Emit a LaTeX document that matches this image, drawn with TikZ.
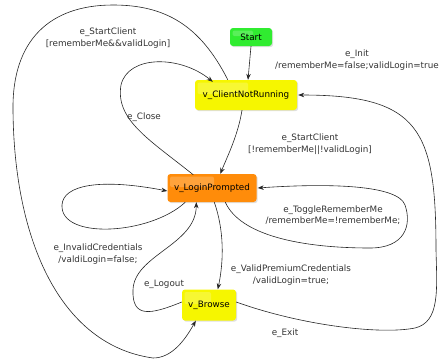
\documentclass[tikz,border=0pt]{standalone}
\usepackage{fontspec}
\setmainfont{DejaVu Sans}
\usetikzlibrary{arrows.meta,shadows,calc}
\definecolor{stgreen}{HTML}{30EC30}
\definecolor{styellow}{HTML}{F6F600}
\definecolor{storange}{HTML}{FF8C0A}
\definecolor{lbl}{HTML}{333333}
\tikzset{
  state/.style={rounded corners=3pt, inner sep=0pt, font=\fontsize{8.8}{10.5}\selectfont,
    drop shadow={opacity=0.25, shadow xshift=1.2pt, shadow yshift=-1.2pt},
    path picture={\fill[white,opacity=0.2,rounded corners=2pt]
      ($(path picture bounding box.north west)+(2.5pt,-2.5pt)$) rectangle
      ($(path picture bounding box.center)+(2pt,1pt)$);}},
  edge/.style={draw=black!85, line width=0.6pt, -{Stealth[length=6pt,width=4.5pt]}},
  lab/.style={font=\fontsize{8.8}{11.5}\selectfont, text=lbl, align=center, inner sep=0pt},
}
\begin{document}
\begin{tikzpicture}[x=1pt,y=-1pt]
\useasboundingbox (0,0) rectangle (440,362);
% states
\node[state, fill=stgreen, minimum width=42pt, minimum height=18pt] (start) at (251,37) {Start};
\node[state, fill=styellow, minimum width=102pt, minimum height=30pt] (cnr) at (246,95) {v\_ClientNotRunning};
\node[state, fill=storange, minimum width=89pt, minimum height=28pt] (lp) at (212,188) {v\_LoginPrompted};
\node[state, fill=styellow, minimum width=54pt, minimum height=31pt] (br) at (209,305) {v\_Browse};
% anchor points
\coordinate (cnrTL) at ($(cnr.north west)+(33pt,0)$);
\coordinate (cnrTL2) at ($(cnr.north west)+(18pt,-2pt)$);
\coordinate (lpTL) at ($(lp.north west)+(26pt,-1pt)$);
\coordinate (lpB1) at ($(lp.south west)+(18pt,0)$);
\coordinate (lpB2) at ($(lp.south west)+(29pt,0)$);
\coordinate (lpB3) at ($(lp.south west)+(47pt,0)$);
\coordinate (lpB4) at ($(lp.south west)+(58pt,0)$);
\coordinate (lpT) at ($(lp.north west)+(53pt,0)$);
\coordinate (lpL) at ($(lp.west)+(0,-3pt)$);
\coordinate (lpR) at ($(lp.east)+(1pt,0)$);
\coordinate (brT) at ($(br.north west)+(36pt,0)$);
\coordinate (brB) at ($(br.south west)+(14pt,0)$);
\coordinate (brL) at ($(br.west)+(0,3pt)$);
\coordinate (brR) at ($(br.east)+(0,3pt)$);
\coordinate (cnrB) at ($(cnr.south)+(-4pt,0)$);
\coordinate (cnrR) at ($(cnr.east)+(1pt,0)$);
% e_Init
\draw[edge] (start.south) -- ([xshift=2pt]cnr.north);
\node[lab, anchor=north] (linit) at (357,50) {e\_Init\\/rememberMe=false;validLogin=true};
% e_StartClient [rememberMe&&validLogin]
\draw[edge] (cnrTL) .. controls (200,25) and (165,5) .. (113,5)
  .. controls (50,5) and (12,40) .. (13,110)
  .. controls (14,240) and (60,345) .. (153,358)
  .. controls (172,358) and (185,340) .. (brB);
\node[lab] (lsc1) at (108,38) {e\_StartClient\\{[}rememberMe\&\&validLogin{]}};
% e_Close
\draw[edge] (lpTL) .. controls (150,140) and (115,120) .. (121,85)
  .. controls (128,55) and (180,55) .. (cnrTL2);
\node[lab] (lclose) at (144,117) {e\_Close};
% e_StartClient [!rememberMe||!validLogin]
\draw[edge] (cnrB) .. controls (238,135) and (228,155) .. (lpT);
\node[lab] (lsc2) at (310,144) {e\_StartClient\\{[}!rememberMe||!validLogin{]}};
% e_InvalidCredentials (self loop, left)
\draw[edge] (lpB1) .. controls (150,235) and (60,240) .. (62,205)
  .. controls (63,185) and (100,178) .. (lpL);
\node[lab] (linv) at (98,254) {e\_InvalidCredentials\\/valdiLogin=false;};
% e_ToggleRememberMe (self loop, right)
\draw[edge] (lpB4) .. controls (240,235) and (300,248) .. (370,248)
  .. controls (405,248) and (412,225) .. (405,205)
  .. controls (398,185) and (330,183) .. (lpR);
\node[lab] (ltog) at (333,215) {e\_ToggleRememberMe\\/rememberMe=!rememberMe;};
% e_ValidPremiumCredentials
\draw[edge] (lpB3) .. controls (224,230) and (224,260) .. (brT);
\node[lab] (lvp) at (291,275) {e\_ValidPremiumCredentials\\/validLogin=true;};
% e_Logout
\draw[edge] (brL) .. controls (150,315) and (132,318) .. (133,290)
  .. controls (134,255) and (196,245) .. (lpB2);
\node[lab] (llog) at (164,284) {e\_Logout};
% e_Exit
\draw[edge] (brR) .. controls (300,325) and (380,335) .. (415,328)
  .. controls (440,322) and (437,290) .. (436,250)
  .. controls (436,130) and (420,95) .. (cnrR);
\node[lab] (lexit) at (285,333) {e\_Exit};
\end{tikzpicture}
\end{document}
